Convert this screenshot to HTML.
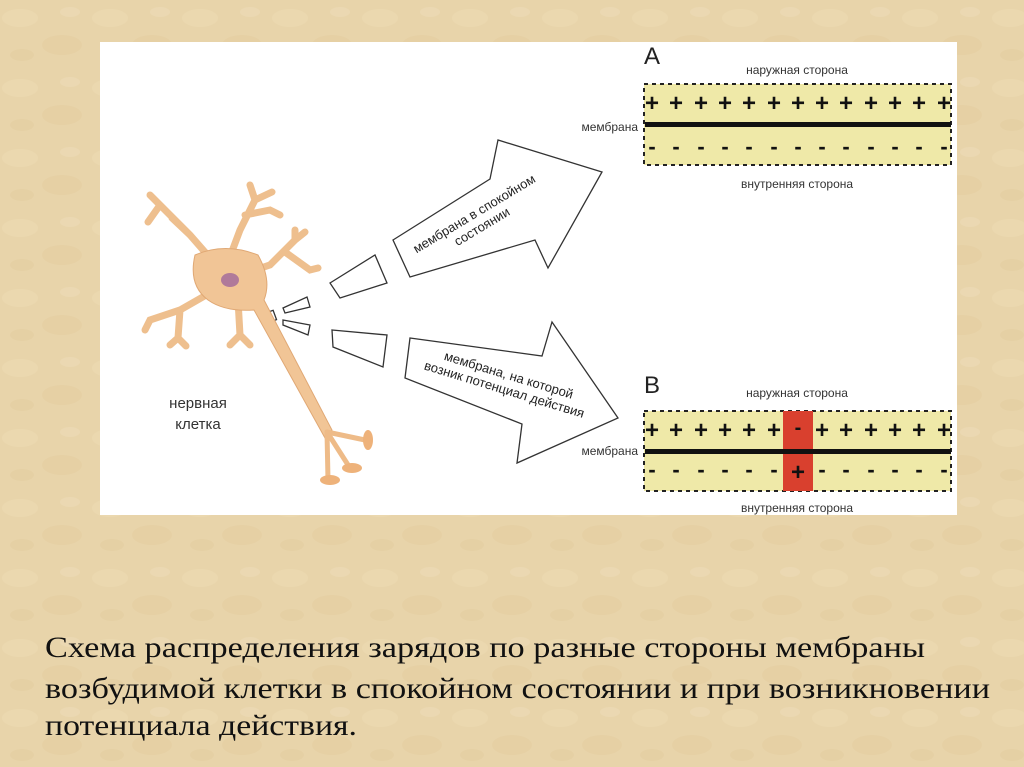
<!DOCTYPE html>
<html><head><meta charset="utf-8"><style>
body{margin:0;width:1024px;height:767px;overflow:hidden;background:#e9d6ae;}
svg{display:block}
</style></head><body>
<svg width="1024" height="767" viewBox="0 0 1024 767" xmlns="http://www.w3.org/2000/svg" font-family="Liberation Sans, sans-serif">
<defs>
<pattern id="tx" width="90" height="70" patternUnits="userSpaceOnUse">
<rect width="90" height="70" fill="#e8d4aa"/>
<ellipse cx="20" cy="18" rx="18" ry="9" fill="#ecdab3" opacity=".6"/>
<ellipse cx="62" cy="45" rx="20" ry="10" fill="#e3cc9e" opacity=".5"/>
<ellipse cx="70" cy="12" rx="10" ry="5" fill="#eddcb9" opacity=".5"/>
<ellipse cx="22" cy="55" rx="12" ry="6" fill="#e2ca9c" opacity=".4"/>
</pattern>
</defs>
<rect width="1024" height="767" fill="url(#tx)"/>
<rect x="100" y="42" width="857" height="473" fill="#fff"/>

<!-- Box A -->
<text x="644" y="64" font-size="24" fill="#222">A</text>
<text x="797" y="74" font-size="12" text-anchor="middle" fill="#333">наружная сторона</text>
<rect x="644" y="84" width="307" height="81" fill="#efe9a8" stroke="#222" stroke-width="2" stroke-dasharray="4,4"/>
<text x="652 676 701 725 749 774 798 822 846 871 895 919 944" y="111" font-size="24" font-weight="bold" text-anchor="middle" fill="#111">+++++++++++++</text>
<rect x="645" y="122" width="306" height="5" fill="#111"/>
<text x="652 676 701 725 749 774 798 822 846 871 895 919 944" y="154" font-size="22" font-weight="bold" text-anchor="middle" fill="#111">-------------</text>
<text x="638" y="131" font-size="12" text-anchor="end" fill="#333">мембрана</text>
<text x="797" y="188" font-size="12" text-anchor="middle" fill="#333">внутренняя сторона</text>

<!-- Box B -->
<text x="644" y="393" font-size="24" fill="#222">B</text>
<text x="797" y="397" font-size="12" text-anchor="middle" fill="#333">наружная сторона</text>
<rect x="644" y="411" width="307" height="80" fill="#efe9a8" stroke="#222" stroke-width="2" stroke-dasharray="4,4"/>
<rect x="783" y="411" width="30" height="80" fill="#d9402e"/>
<text x="652 676 701 725 749 774 822 846 871 895 919 944" y="438" font-size="24" font-weight="bold" text-anchor="middle" fill="#111">++++++++++++</text>
<text x="798" y="434" font-size="20" font-weight="bold" text-anchor="middle" fill="#111">-</text>
<rect x="645" y="449" width="306" height="5" fill="#111"/>
<text x="652 676 701 725 749 774 822 846 871 895 919 944" y="477" font-size="22" font-weight="bold" text-anchor="middle" fill="#111">------------</text>
<text x="798" y="480" font-size="24" font-weight="bold" text-anchor="middle" fill="#111">+</text>
<text x="638" y="455" font-size="12" text-anchor="end" fill="#333">мембрана</text>
<text x="797" y="512" font-size="12" text-anchor="middle" fill="#333">внутренняя сторона</text>

<!-- Arrows -->
<polygon points="393,240 490,179 498,140 602,172 548,268 535,240 410,277" fill="#fff" stroke="#333" stroke-width="1.3"/>
<g transform="translate(478,220) rotate(-31)" font-size="13" fill="#222" text-anchor="middle">
<text x="0" y="-3">мембрана в спокойном</text><text x="0" y="12">состоянии</text></g>
<polygon points="410,338 542,356 552,322 618,418 517,463 522,424 405,378" fill="#fff" stroke="#333" stroke-width="1.3"/>
<g transform="translate(506,384) rotate(17)" font-size="13" fill="#222" text-anchor="middle">
<text x="0" y="-5">мембрана, на которой</text><text x="0" y="10">возник потенциал действия</text></g>

<!-- trapezoids -->
<g fill="#fff" stroke="#333" stroke-width="1.3">
<polygon points="330,283 375,255 387,283 340,298"/>
<polygon points="332,330 387,335 383,367 333,347"/>
<polygon points="283,308 307,297 310,307 285,313"/>
<polygon points="283,320 310,325 308,335 283,325"/>
<rect x="268" y="311" width="7" height="10" transform="rotate(-20 272 316)"/>
</g>

<!-- Neuron -->
<g stroke="#eebf8e" stroke-width="7" stroke-linecap="round" fill="none">
<path d="M225,275 L190,235 L160,205 L150,195 M160,205 L148,222 M190,235 L172,218"/>
<path d="M225,270 L240,230 L255,200 L250,185 M255,200 L272,192 M245,215 L270,210 L280,215"/>
<path d="M240,275 L270,265 L295,240 L295,230 M285,252 L310,270 L318,268 M295,240 L305,232"/>
<path d="M215,290 L180,310 L150,320 L145,330 M180,310 L178,338 L170,345 M178,338 L186,346"/>
<path d="M238,300 L240,335 L230,345 M240,335 L250,345"/>
</g>
<path d="M195,255 Q225,242 258,255 Q272,280 264,300 L332,430 L325,438 L254,310 Q225,312 208,300 Q188,285 195,255Z" fill="#f1c596" stroke="#e0a874" stroke-width="1"/>
<g stroke="#eebb88" stroke-width="5" fill="none" stroke-linecap="round">
<path d="M327,432 L365,440"/><path d="M327,432 L350,468"/><path d="M327,432 L328,480"/>
</g>
<g fill="#eeb27a">
<ellipse cx="368" cy="440" rx="5" ry="10"/><ellipse cx="352" cy="468" rx="10" ry="5"/><ellipse cx="330" cy="480" rx="10" ry="5"/>
</g>
<ellipse cx="230" cy="280" rx="9" ry="7" fill="#b07a9a"/>
<text x="198" y="408" font-size="15" text-anchor="middle" fill="#333">нервная</text>
<text x="198" y="429" font-size="15" text-anchor="middle" fill="#333">клетка</text>

<!-- caption -->
<g font-family="Liberation Serif, serif" font-size="30" fill="#111">
<text x="45" y="657" textLength="880" lengthAdjust="spacingAndGlyphs">Схема распределения зарядов по разные стороны мембраны</text>
<text x="45" y="698" textLength="945" lengthAdjust="spacingAndGlyphs">возбудимой клетки в спокойном состоянии и при возникновении</text>
<text x="45" y="735" textLength="312" lengthAdjust="spacingAndGlyphs">потенциала действия.</text>
</g>
</svg>
</body></html>
